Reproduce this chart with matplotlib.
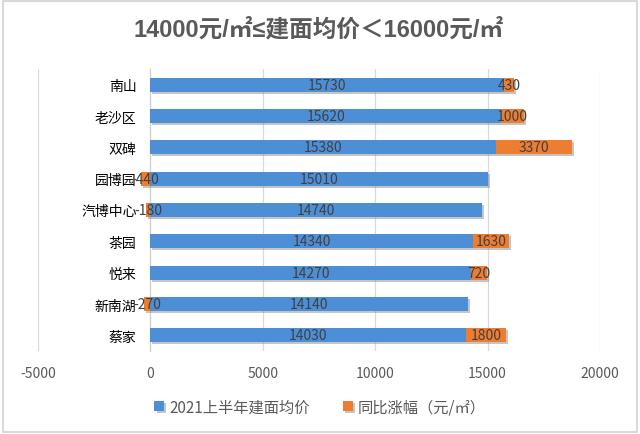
import matplotlib.pyplot as plt
import matplotlib.patheffects as pe
from matplotlib.patches import Rectangle
import numpy as np

plt.rcParams['font.family'] = ['Noto Sans CJK SC', 'DejaVu Sans']

# data, top to bottom as in the chart
areas = ['南山', '老沙区', '双碑', '园博园', '汽博中心', '茶园', '悦来', '新南湖', '蔡家']
price_2021h1 = [15730, 15620, 15380, 15010, 14740, 14340, 14270, 14140, 14030]
yoy_change = [430, 1000, 3370, -440, -180, 1630, 720, -270, 1800]
x_ticks = [-5000, 0, 5000, 10000, 15000, 20000]

BLUE = '#4D8FD7'
ORANGE = '#ED7D31'
GREY = '#595959'
LABEL = '#404040'

fig = plt.figure(figsize=(6.4, 4.35), dpi=100)
ax = fig.add_axes([0.0594, 0.191, 0.878, 0.648])

y = np.arange(len(areas))
price = np.array(price_2021h1)
change = np.array(yoy_change)
left_orange = np.where(change >= 0, price, 0)

shadow = [pe.withSimplePatchShadow(offset=(1.5, -1.5), shadow_rgbFace='#808080', alpha=0.45)]
b1 = ax.barh(y, price, height=0.45, color=BLUE, label='2021上半年建面均价', zorder=3)
b2 = ax.barh(y, change, left=left_orange, height=0.45, color=ORANGE,
             label='同比涨幅（元/㎡）', zorder=3)
for bar in list(b1) + list(b2):
    bar.set_path_effects(shadow)

ax.bar_label(b1, labels=[str(v) for v in price_2021h1], label_type='center',
             color=LABEL, fontsize=10, zorder=5)
ax.bar_label(b2, labels=[str(v) for v in yoy_change], label_type='center',
             color=LABEL, fontsize=10, zorder=5)

ax.set_xlim(-5000, 20000)
ax.set_ylim(len(areas) - 0.5, -0.5)
ax.set_xticks(x_ticks)
ax.set_xticklabels([str(t) for t in x_ticks], color=GREY, fontsize=10)
ax.set_yticks(y)
ax.set_yticklabels(areas, color=GREY, fontsize=11.5)
ax.tick_params(axis='x', length=0, pad=11)
ax.tick_params(axis='y', length=0, pad=10)

ax.grid(axis='x', color='#d9d9d9', lw=0.9, zorder=0)
for s in ['top', 'right', 'bottom']:
    ax.spines[s].set_visible(False)
ax.spines['left'].set_position(('data', 0))
ax.spines['left'].set_color('#d0d0d0')

fig.text(0.498, 0.931, '14000元/㎡≤建面均价＜16000元/㎡', ha='center', va='center',
         fontsize=17, fontweight='bold', color=GREY,
         family=['Liberation Sans', 'Noto Sans CJK SC', 'DejaVu Sans'])

fig.legend(handles=[b1, b2], loc='center', bbox_to_anchor=(0.5, 0.062), ncol=2,
           frameon=False, fontsize=11, labelcolor=GREY, handlelength=0.65,
           handleheight=0.65, handletextpad=0.3, columnspacing=2.2)

# light chart border
fig.patches.append(Rectangle((0.004, 0.005), 0.992, 0.99, transform=fig.transFigure,
                             fill=False, edgecolor='#d9d9d9', lw=1.5))

fig.savefig('out.png', dpi=100)
